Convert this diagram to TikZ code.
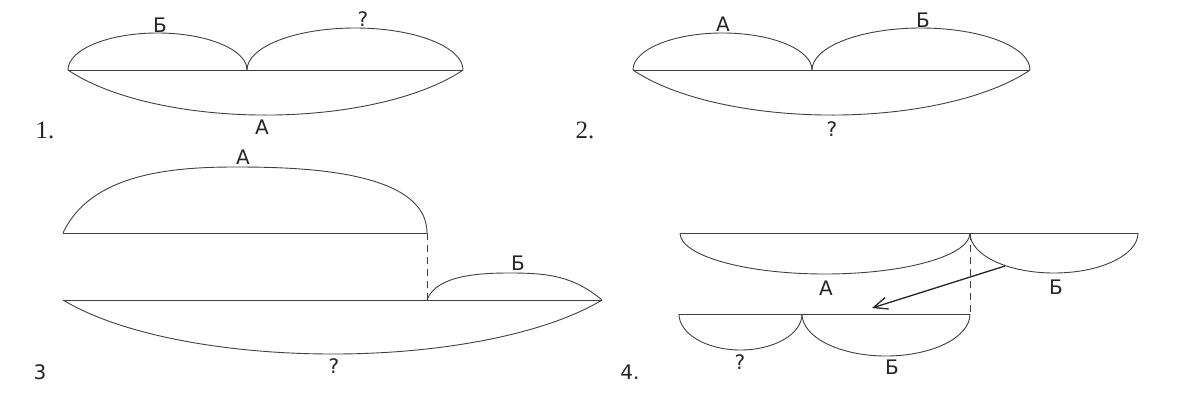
\documentclass[tikz,border=0pt]{standalone}
\usepackage{fontspec}
\setmainfont{Liberation Serif}
\newfontfamily\lblfont{DejaVu Sans}
\usetikzlibrary{arrows.meta}

\begin{document}
\begin{tikzpicture}[
    x=1pt, y=1pt,
    seg/.style={draw=black!75, line width=0.9pt},
    dsh/.style={draw=black!75, line width=0.9pt, dash pattern=on 7pt off 5pt},
    lbl/.style={font=\lblfont\fontsize{20}{24}\selectfont, inner sep=0pt, text=black!85},
    num/.style={font=\fontsize{25}{30}\selectfont, inner sep=0pt, text=black!85},
    arr/.style={-{Straight Barb[length=14pt,width=12pt]}, line width=1.3pt, draw=black!85}
]
\useasboundingbox (0,0) rectangle (1179,-405);

% 1.
\coordinate (l1) at (68,-70);
\coordinate (m1) at (247,-70);
\coordinate (r1) at (463,-70);
\draw[seg] (l1) -- (r1);
\draw[seg] (l1) arc[start angle=180, end angle=0, x radius=89.5, y radius=37];
\draw[seg] (m1) arc[start angle=180, end angle=0, x radius=108, y radius=42];
\draw[seg] (l1) arc[start angle=210.8, end angle=329.2, x radius=230, y radius=92.3];
\node[lbl] (b1) at (160,-25) {Б};
\node[lbl] (q1) at (363,-19) {?};
\node[lbl] (a1) at (262,-127) {А};
\node[num] (n1) at (45,-130) {1.};

% 2.
\coordinate (l2) at (633,-70);
\coordinate (m2) at (812,-70);
\coordinate (r2) at (1030,-70);
\draw[seg] (l2) -- (r2);
\draw[seg] (l2) arc[start angle=180, end angle=0, x radius=89.5, y radius=37];
\draw[seg] (m2) arc[start angle=180, end angle=0, x radius=109, y radius=42];
\draw[seg] (l2) arc[start angle=210.3, end angle=329.7, x radius=230, y radius=90.9];
\node[lbl] (a2) at (723,-24) {А};
\node[lbl] (b2) at (923,-20) {Б};
\node[lbl] (q2) at (832,-129) {?};
\node[num] (n2) at (585,-130) {2.};

% 3
\coordinate (a3l) at (63,-233);
\coordinate (a3r) at (427,-233);
\coordinate (a3t) at (235,-167);
\coordinate (b3l) at (63,-300);
\coordinate (b3m) at (427,-300);
\coordinate (b3r) at (602,-300);
\coordinate (b3t) at (510,-273);
\draw[seg] (a3l) -- (a3r);
\draw[seg] (a3l) to[out=65, in=180, looseness=0.9] (a3t) to[out=0, in=90, looseness=0.8] (a3r);
\draw[dsh] (a3r) -- (b3m);
\draw[seg] (b3l) -- (b3r);
\draw[seg] (b3m) to[out=70, in=180, looseness=0.8] (b3t) to[out=0, in=140] (b3r);
\draw[seg] (b3l) arc[start angle=209.6, end angle=330.4, x radius=310, y radius=106.7];
\node[lbl] (a3) at (243,-157) {А};
\node[lbl] (b3) at (518,-263) {Б};
\node[lbl] (q3) at (334,-366) {?};
\node[lbl] (n3) at (40,-372) {3};

% 4.
\coordinate (t4l) at (680,-233);
\coordinate (t4m) at (970,-233);
\coordinate (t4r) at (1138,-233);
\coordinate (b4l) at (679,-314);
\coordinate (b4m) at (802,-314);
\coordinate (b4r) at (970,-314);
\coordinate (p4) at (1005,-266);
\coordinate (q4) at (872,-308);
\draw[seg] (t4l) -- (t4r);
\draw[seg] (t4l) arc[start angle=180, end angle=360, x radius=145, y radius=41];
\draw[seg] (t4m) arc[start angle=180, end angle=360, x radius=84, y radius=40];
\draw[dsh] (t4m) -- (b4r);
\draw[seg] (b4l) -- (b4r);
\draw[seg] (b4l) arc[start angle=180, end angle=360, x radius=61.5, y radius=36];
\draw[seg] (b4m) arc[start angle=180, end angle=360, x radius=84, y radius=42];
\draw[arr] (p4) -- (q4);
\node[lbl] (a4) at (826,-288) {А};
\node[lbl] (b4) at (1056,-287) {Б};
\node[lbl] (q4l) at (740,-362) {?};
\node[lbl] (b4b) at (892,-367) {Б};
\node[lbl] (n4) at (630,-372) {4.};
\end{tikzpicture}
\end{document}
